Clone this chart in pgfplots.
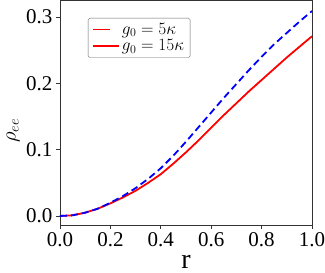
\documentclass[border=0pt]{standalone}
\usepackage{fontspec}
\setmainfont{Liberation Serif}
\usepackage{pgfplots}
\pgfplotsset{compat=1.18}
\begin{document}
\sbox0{\fontsize{17}{19}\selectfont $g_0=15\kappa$ \color{red}x}%
\sbox0{\fontsize{22}{26}\selectfont $\rho_{ee}$}%
\begin{tikzpicture}
\begin{axis}[
  scale only axis,
  width=252pt, height=225pt,
  xmin=0, xmax=1, ymin=-0.0136, ymax=0.3256,
  xtick={0,0.2,0.4,0.6,0.8,1.0},
  ytick={0,0.1,0.2,0.3},
  xtick pos=bottom, ytick pos=left,
  tick align=outside,
  major tick length=4pt,
  minor tick num=0,
  /pgf/number format/assume math mode=true,
  /pgf/number format/.cd, fixed, fixed zerofill, precision=1, /pgfplots/.cd,
  ticklabel style={font=\fontsize{21}{24}\selectfont},
  xlabel={r},
  xlabel style={font=\fontsize{28}{32}\selectfont, at={(axis description cs:0.5,-0.135)}, anchor=north, inner sep=0pt},
  ylabel={$\rho_{ee}$},
  ylabel style={font=\fontsize{22}{26}\selectfont, at={(axis description cs:-0.186,0.42)}, anchor=center, inner sep=0pt},
  axis line style={black!80, line width=0.7pt},
  every tick/.style={black!80, line width=0.7pt},
  legend style={at={(0.111,0.92)}, anchor=north west, draw=black!60, rounded corners=1.5pt,
    font=\fontsize{17}{19}\selectfont, row sep=0pt, inner xsep=4pt, inner ysep=3pt},
  legend cell align=left,
  clip=false,
]
\addplot[red, line width=1.8pt] coordinates {
(0,0) (0.05,0.001) (0.1,0.005) (0.15,0.011) (0.2,0.019) (0.25,0.028) (0.3,0.038) (0.35,0.050) (0.4,0.063) (0.45,0.079) (0.5,0.096) (0.55,0.114) (0.6,0.133) (0.65,0.152) (0.7,0.170) (0.75,0.188) (0.8,0.205) (0.85,0.222) (0.9,0.239) (0.95,0.255) (1.0,0.271)
};
\addlegendimage{legend image code/.code={\draw[red, line width=1.8pt] (0pt,0pt) -- (26pt,0pt);}}
\addlegendentry{$g_0=5\kappa$}
\addplot[blue, line width=1.8pt, dash pattern=on 7pt off 4pt] coordinates {
(0,0) (0.05,0.001) (0.1,0.005) (0.15,0.011) (0.2,0.020) (0.25,0.030) (0.3,0.042) (0.35,0.056) (0.4,0.072) (0.45,0.091) (0.5,0.112) (0.55,0.134) (0.6,0.156) (0.65,0.178) (0.7,0.199) (0.75,0.220) (0.8,0.240) (0.85,0.259) (0.9,0.276) (0.95,0.293) (1.0,0.309)
};
\addlegendimage{legend image code/.code={\draw[blue, line width=1.8pt, dash pattern=on 7pt off 4pt] (0pt,0pt) -- (26pt,0pt);}}
\addlegendentry{$g_0=15\kappa$}
\coordinate (O) at (rel axis cs:0,0);
\end{axis}
\pgfresetboundingbox
\path[use as bounding box] (O) ++(-60pt,-48pt) rectangle ++(325pt,273pt);
\end{tikzpicture}
\end{document}
